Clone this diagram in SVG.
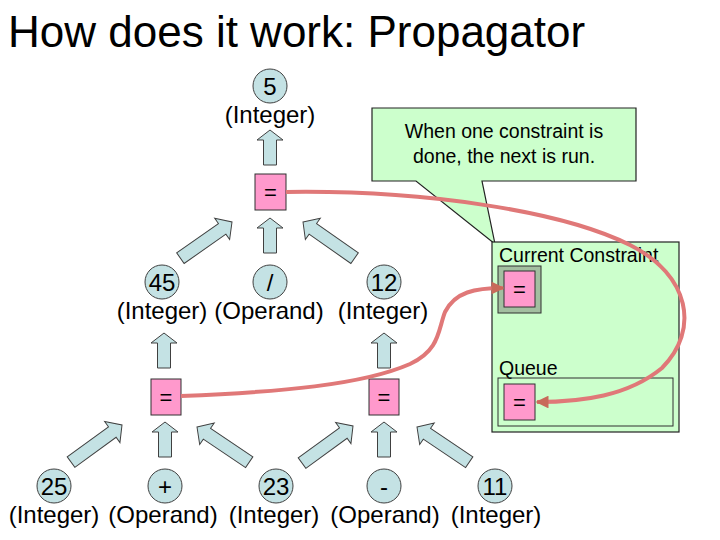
<svg xmlns="http://www.w3.org/2000/svg" width="720" height="540" viewBox="0 0 720 540">
<defs>
<style>
text{font-family:"Liberation Sans",Arial,sans-serif;fill:#000}
.t{font-size:44px}
.n{font-size:24px;text-anchor:middle}
.lbl{font-size:24px;text-anchor:middle}
.eq{font-size:22px;text-anchor:middle}
.small{font-size:19.5px}
.circ{fill:#c4e2e4;stroke:#404040;stroke-width:1}
.blk{fill:#c4e2e4;stroke:#404040;stroke-width:1}
.pink{fill:#ff99cc;stroke:#303030;stroke-width:1}
.curve{fill:none;stroke:#e07878;stroke-width:4}
.panel{fill:#ccffcc;stroke:#222;stroke-width:1.2}
</style>
<path id="up35" d="M0,0 L13,10 L6.5,10 L6.5,35 L-6.5,35 L-6.5,10 L-13,10 Z"/>
<path id="up63" d="M0,0 L13,12 L6.5,12 L6.5,63 L-6.5,63 L-6.5,12 L-13,12 Z"/>
<marker id="ah" viewBox="0 0 10 10" refX="9" refY="5" markerWidth="3.2" markerHeight="3.2" orient="auto" markerUnits="strokeWidth">
<path d="M0,0 L10,5 L0,10 Z" fill="#c86a5a"/>
</marker>
</defs>
<rect width="720" height="540" fill="#fff"/>
<text class="t" x="8" y="47">How does it work: Propagator</text>

<g id="callout">
<path class="panel" d="M372,108 H636 V181 H482 L495,244 L416,181 H372 Z" stroke-width="1"/>
<text class="small" x="504" y="138" text-anchor="middle">When one constraint is</text>
<text class="small" x="504" y="163" text-anchor="middle">done, the next is run.</text>
</g>

<g id="panel">
<rect class="panel" x="492" y="242" width="187" height="190"/>
<text class="small" x="499" y="262">Current Constraint</text>
<rect x="498" y="266" width="43" height="47" fill="#a3bfa0" stroke="#303030" stroke-width="1"/>
<g id="current-eq">
<rect class="pink" x="504" y="271" width="31" height="36"/>
<text class="eq" x="519.5" y="297">=</text>
</g>
<text class="small" x="499" y="375">Queue</text>
<rect x="498" y="378" width="175" height="48" fill="none" stroke="#303030" stroke-width="1"/>
<g id="queue-eq">
<rect class="pink" x="504" y="384" width="31" height="36"/>
<text class="eq" x="519.5" y="410">=</text>
</g>
</g>

<g id="top-result">
<circle class="circ" cx="270" cy="86" r="17"/>
<text class="n" x="270" y="94.5">5</text>
<text class="lbl" x="270" y="123">(Integer)</text>
</g>
<g id="eq-top">
<rect class="pink" x="255" y="174" width="31" height="36"/>
<text class="eq" x="270.5" y="200">=</text>
</g>
<g id="n45">
<circle class="circ" cx="162" cy="282" r="17"/>
<text class="n" x="162" y="290.5">45</text>
<text class="lbl" x="162" y="319">(Integer)</text>
</g>
<g id="ndiv">
<circle class="circ" cx="270" cy="282" r="17"/>
<text class="n" x="270" y="290.5">/</text>
<text class="lbl" x="269" y="319">(Operand)</text>
</g>
<g id="n12">
<circle class="circ" cx="384" cy="282" r="17"/>
<text class="n" x="384" y="290.5">12</text>
<text class="lbl" x="383" y="319">(Integer)</text>
</g>
<g id="eq-left">
<rect class="pink" x="151" y="379" width="30" height="36"/>
<text class="eq" x="166" y="405">=</text>
</g>
<g id="eq-right">
<rect class="pink" x="369" y="379" width="30" height="36"/>
<text class="eq" x="384" y="405">=</text>
</g>
<g id="n25">
<circle class="circ" cx="54" cy="486" r="17"/>
<text class="n" x="54" y="494.5">25</text>
<text class="lbl" x="54" y="523">(Integer)</text>
</g>
<g id="nplus">
<circle class="circ" cx="165" cy="486" r="17"/>
<text class="n" x="165" y="494.5">+</text>
<text class="lbl" x="163" y="523">(Operand)</text>
</g>
<g id="n23">
<circle class="circ" cx="276" cy="486" r="17"/>
<text class="n" x="276" y="494.5">23</text>
<text class="lbl" x="274" y="523">(Integer)</text>
</g>
<g id="nminus">
<circle class="circ" cx="384" cy="486" r="17"/>
<text class="n" x="384" y="494.5">-</text>
<text class="lbl" x="385" y="523">(Operand)</text>
</g>
<g id="n11">
<circle class="circ" cx="495" cy="486" r="17"/>
<text class="n" x="495" y="494.5">11</text>
<text class="lbl" x="496" y="523">(Integer)</text>
</g>

<g id="connectors">
<use href="#up35" class="blk" transform="translate(270,130)"/>
<use href="#up35" class="blk" transform="translate(270,218)"/>
<use href="#up63" class="blk" transform="translate(232,222) rotate(55)"/>
<use href="#up63" class="blk" transform="translate(303,222) rotate(-55)"/>
<use href="#up35" class="blk" transform="translate(164,333)"/>
<use href="#up35" class="blk" transform="translate(384,333)"/>
<use href="#up35" class="blk" transform="translate(165,422)"/>
<use href="#up35" class="blk" transform="translate(384,422)"/>
<use href="#up63" class="blk" transform="translate(122,425) rotate(54)"/>
<use href="#up63" class="blk" transform="translate(197,427) rotate(-56)"/>
<use href="#up63" class="blk" transform="translate(353,426) rotate(54)"/>
<use href="#up63" class="blk" transform="translate(417,427) rotate(-56)"/>
<path class="curve" marker-end="url(#ah)" d="M286,192 C420,190 560,210 630,245 C690,275 700,330 662,368 C628,396 582,402 537,402"/>
<path class="curve" marker-end="url(#ah)" d="M181,396 C280,392 362,385 410,364 C440,350 438,330 445,312 C455,292 475,288 503,288"/>
</g>
</svg>
